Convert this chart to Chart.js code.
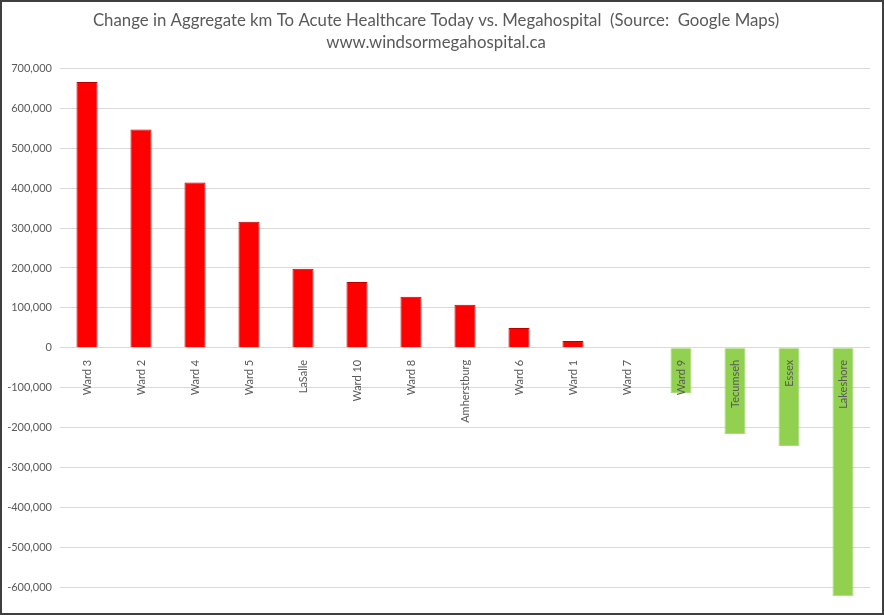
<!DOCTYPE html>
<html>
<head>
<meta charset="utf-8">
<script src="https://cdn.jsdelivr.net/npm/chart.js@4.4.0/dist/chart.umd.min.js"></script>
<style>
  html, body { margin: 0; padding: 0; background: #fff; }
  #frame {
    position: absolute; left: 0; top: 0;
    width: 884px; height: 615px;
    box-sizing: border-box;
    border: 2px solid #3f3f3f;
    background: #fff;
    overflow: hidden;
  }
  #chart { display: block; }
</style>
</head>
<body>
<div id="frame"><canvas id="chart" width="880" height="620"></canvas></div>
<script>
  var areas = ['Ward 3', 'Ward 2', 'Ward 4', 'Ward 5', 'LaSalle', 'Ward 10', 'Ward 8',
               'Amherstburg', 'Ward 6', 'Ward 1', 'Ward 7', 'Ward 9', 'Tecumseh', 'Essex', 'Lakeshore'];
  var kmChange = [666000, 547000, 414000, 316000, 198000, 165000, 128000,
                  108000, 50000, 17000, 0, -113000, -216000, -246000, -622000];
  var yTicks = [700000, 600000, 500000, 400000, 300000, 200000, 100000, 0,
                -100000, -200000, -300000, -400000, -500000, -600000];
  var titleLines = ['Change in Aggregate km To Acute Healthcare Today vs. Megahospital  (Source:  Google Maps)',
                    'www.windsormegahospital.ca'];

  var textGrey = '#595959';
  var font = 'Lato, "Open Sans", "Liberation Sans", sans-serif';

  // canvas is a little taller than the frame; the Excel original crops the plot at the bottom
  new Chart(document.getElementById('chart'), {
    type: 'bar',
    data: {
      labels: areas,
      datasets: [{
        data: kmChange,
        backgroundColor: kmChange.map(function (v) { return v < 0 ? '#92d050' : '#ff0000'; }),
        borderColor: kmChange.map(function (v) { return v < 0 ? '#a9dc74' : '#c00000'; }),
        borderWidth: 1,
        barPercentage: 0.39,
        categoryPercentage: 1
      }]
    },
    options: {
      responsive: false,
      animation: false,
      layout: { padding: { left: 0, right: 12, top: 0, bottom: 0 } },
      plugins: {
        legend: { display: false },
        tooltip: { enabled: false },
        title: {
          display: true,
          text: titleLines,
          color: textGrey,
          font: { family: font, size: 16.8, weight: 'normal', lineHeight: 1.32 },
          padding: { top: 7, bottom: 15 }
        }
      },
      scales: {
        x: {
          position: { y: 0 },
          grid: { display: false },
          border: { display: false },
          ticks: {
            z: 1,
            color: textGrey,
            font: { family: font, size: 11 },
            minRotation: 90, maxRotation: 90,
            padding: 4
          }
        },
        y: {
          min: -650000,
          max: 700000,
          afterBuildTicks: function (axis) {
            axis.ticks = yTicks.map(function (v) { return { value: v }; });
          },
          afterFit: function (axis) { axis.width = 58; },
          grid: { color: '#d9d9d9', drawTicks: false },
          border: { display: false },
          ticks: {
            color: textGrey,
            padding: 8,
            font: { family: font, size: 11 },
            callback: function (v) { return v.toLocaleString('en-US'); }
          }
        }
      }
    }
  });
</script>
</body>
</html>
